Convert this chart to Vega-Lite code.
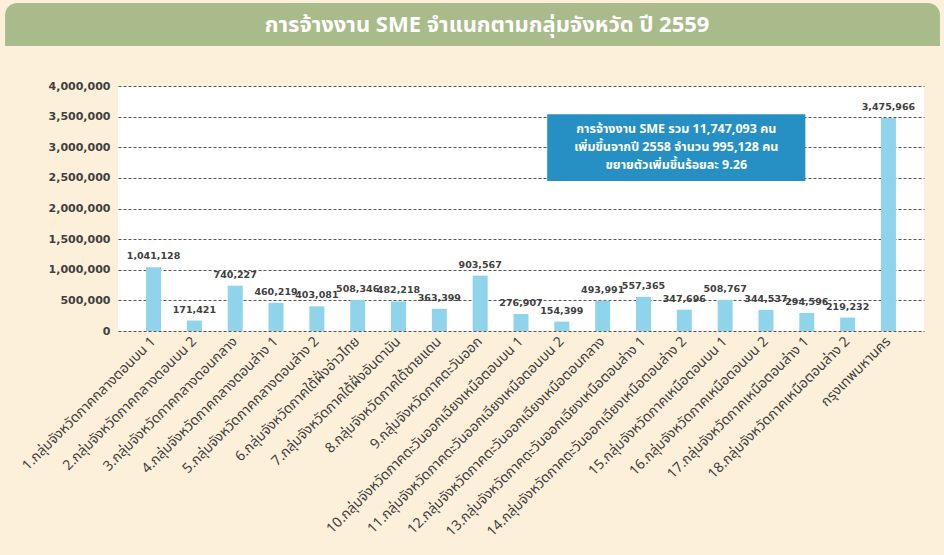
{
  "$schema": "https://vega.github.io/schema/vega-lite/v6.json",
  "background": "#fdf0da",
  "padding": {"left": 5, "top": 3, "right": 4, "bottom": 20},
  "spacing": 34,
  "config": {"view": {"stroke": null}, "font": "Noto Sans"},
  "vconcat": [
    {
      "width": 806,
      "height": 43,
      "data": {"values": [{"title": "การจ้างงาน SME จำแนกตามกลุ่มจังหวัด ปี 2559", "x0": -2.76, "x1": 20.09, "xc": 9.02}]},
      "layer": [
        {"mark": {"type": "rect", "color": "#a9bb8a", "cornerRadiusTopLeft": 12, "cornerRadiusTopRight": 12},
         "encoding": {
           "x": {"field": "x0", "type": "quantitative", "scale": {"domain": [0, 19.7], "nice": false, "zero": false}, "axis": null},
           "x2": {"field": "x1"}
         }},
        {"mark": {"type": "text", "color": "white", "font": "Noto Sans Thai", "fontSize": 22, "fontWeight": "bold", "baseline": "middle", "align": "center"},
         "encoding": {
           "x": {"field": "xc", "type": "quantitative", "scale": {"domain": [0, 19.7], "nice": false, "zero": false}, "axis": null},
           "text": {"field": "title"}
         }}
      ]
    },
    {
      "width": 806,
      "height": 245,
      "view": {"fill": "white", "stroke": null},
      "resolve": {"scale": {"x": "independent"}},
      "layer": [
        {
          "data": {"values": [
            {"region": "1.กลุ่มจังหวัดภาคกลางตอนบน 1", "value": 1041128},
            {"region": "2.กลุ่มจังหวัดภาคกลางตอนบน 2", "value": 171421},
            {"region": "3.กลุ่มจังหวัดภาคกลางตอนกลาง", "value": 740227},
            {"region": "4.กลุ่มจังหวัดภาคกลางตอนล่าง 1", "value": 460219},
            {"region": "5.กลุ่มจังหวัดภาคกลางตอนล่าง 2", "value": 403081},
            {"region": "6.กลุ่มจังหวัดภาคใต้ฝั่งอ่าวไทย", "value": 508346},
            {"region": "7.กลุ่มจังหวัดภาคใต้ฝั่งอันดามัน", "value": 482218},
            {"region": "8.กลุ่มจังหวัดภาคใต้ชายแดน", "value": 363399},
            {"region": "9.กลุ่มจังหวัดภาคตะวันออก", "value": 903567},
            {"region": "10.กลุ่มจังหวัดภาคตะวันออกเฉียงเหนือตอนบน 1", "value": 276907},
            {"region": "11.กลุ่มจังหวัดภาคตะวันออกเฉียงเหนือตอนบน 2", "value": 154399},
            {"region": "12.กลุ่มจังหวัดภาคตะวันออกเฉียงเหนือตอนกลาง", "value": 493991},
            {"region": "13.กลุ่มจังหวัดภาคตะวันออกเฉียงเหนือตอนล่าง 1", "value": 557365},
            {"region": "14.กลุ่มจังหวัดภาคตะวันออกเฉียงเหนือตอนล่าง 2", "value": 347696},
            {"region": "15.กลุ่มจังหวัดภาคเหนือตอนบน 1", "value": 508767},
            {"region": "16.กลุ่มจังหวัดภาคเหนือตอนบน 2", "value": 344537},
            {"region": "17.กลุ่มจังหวัดภาคเหนือตอนล่าง 1", "value": 294596},
            {"region": "18.กลุ่มจังหวัดภาคเหนือตอนล่าง 2", "value": 219232},
            {"region": "กรุงเทพมหานคร", "value": 3475966}
          ]},
          "encoding": {
            "x": {
              "field": "region", "type": "nominal", "sort": null,
              "scale": {"paddingInner": 0.633, "paddingOuter": 0.687},
              "axis": {"title": null, "labelAngle": -45, "labelAlign": "right", "labelBaseline": "middle", "labelFont": "Noto Sans Thai", "labelFontSize": 14, "labelColor": "#404040", "ticks": false, "domain": false, "labelPadding": 8, "labelLimit": 400}
            },
            "y": {
              "field": "value", "type": "quantitative",
              "scale": {"domain": [0, 4000000], "nice": false},
              "axis": {"title": null, "values": [0, 500000, 1000000, 1500000, 2000000, 2500000, 3000000, 3500000, 4000000], "labelOverlap": false, "format": ",d", "grid": true, "gridDash": [3, 2], "gridColor": "#555555", "gridWidth": 1, "ticks": false, "domain": false, "labelFont": "DejaVu Sans", "labelFontSize": 11, "labelFontWeight": "bold", "labelColor": "#404040", "labelPadding": 8, "minExtent": 113}
            }
          },
          "layer": [
            {"mark": {"type": "bar", "color": "#8fd4ea"}},
            {"mark": {"type": "text", "baseline": "bottom", "dy": -6, "font": "DejaVu Sans", "fontSize": 9.5, "fontWeight": "bold", "color": "#404040"},
             "encoding": {"text": {"field": "value", "type": "quantitative", "format": ",d"}}}
          ]
        },
        {
          "data": {"values": [
            {"x0": 10.49, "x1": 16.8, "y0": 3540000, "y1": 2450000, "xc": 13.645, "yc": 3298000,
             "label": "การจ้างงาน SME รวม 11,747,093 คน\nเพิ่มขึ้นจากปี 2558 จำนวน 995,128 คน\nขยายตัวเพิ่มขึ้นร้อยละ 9.26"}
          ]},
          "layer": [
            {"mark": {"type": "rect", "color": "#2690c4"},
             "encoding": {
               "x": {"field": "x0", "type": "quantitative", "scale": {"domain": [0, 19.7], "nice": false, "zero": false}, "axis": null},
               "x2": {"field": "x1"},
               "y": {"field": "y0", "type": "quantitative", "axis": {"title": null, "values": [0, 500000, 1000000, 1500000, 2000000, 2500000, 3000000, 3500000, 4000000], "labelOverlap": false, "format": ",d", "grid": true, "gridDash": [3, 2], "gridColor": "#555555", "gridWidth": 1, "ticks": false, "domain": false, "labelFont": "DejaVu Sans", "labelFontSize": 11, "labelFontWeight": "bold", "labelColor": "#404040", "labelPadding": 8, "minExtent": 113}},
               "y2": {"field": "y1"}
             }},
            {"mark": {"type": "text", "color": "white", "font": "Noto Sans Thai", "fontSize": 12.5, "fontWeight": "bold", "align": "center", "baseline": "middle", "lineBreak": "\n", "lineHeight": 18},
             "encoding": {
               "x": {"field": "xc", "type": "quantitative", "scale": {"domain": [0, 19.7], "nice": false, "zero": false}, "axis": null},
               "y": {"field": "yc", "type": "quantitative", "axis": {"title": null, "values": [0, 500000, 1000000, 1500000, 2000000, 2500000, 3000000, 3500000, 4000000], "labelOverlap": false, "format": ",d", "grid": true, "gridDash": [3, 2], "gridColor": "#555555", "gridWidth": 1, "ticks": false, "domain": false, "labelFont": "DejaVu Sans", "labelFontSize": 11, "labelFontWeight": "bold", "labelColor": "#404040", "labelPadding": 8, "minExtent": 113}},
               "text": {"field": "label"}
             }}
          ]
        }
      ]
    }
  ]
}
